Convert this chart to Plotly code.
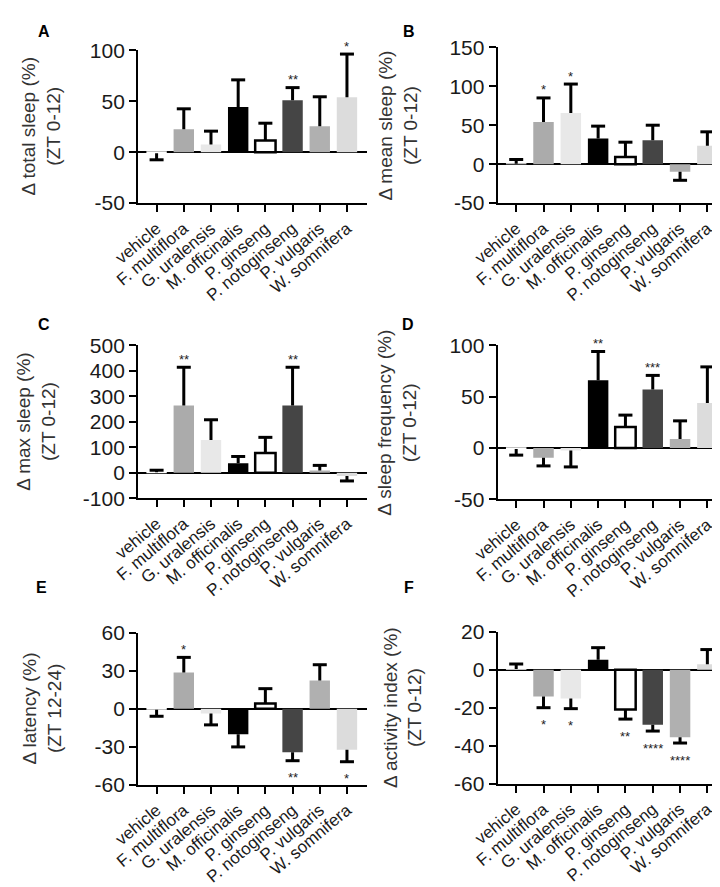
import plotly.graph_objects as go

categories = ["vehicle", "F. multiflora", "G. uralensis", "M. officinalis",
              "P. ginseng", "P. notoginseng", "P. vulgaris", "W. somnifera"]
bar_colors = ["#ffffff", "#ababab", "#e8e8e8", "#000000",
              "#ffffff", "#454545", "#b0b0b0", "#dcdcdc"]
outline_widths = [0, 0, 0, 0, 2.5, 0, 0, 0]

# Panel A: total sleep (ZT 0-12)
total_sleep = [-1, 22.5, 7.6, 44.3, 11.4, 51, 25.3, 53.8]
total_sleep_err = [6.5, 20, 13, 26.6, 17, 12.3, 29, 42.4]
total_sleep_sig = ["", "", "", "", "", "**", "", "*"]
total_sleep_ticks = [-50, 0, 50, 100]

# Panel B: mean sleep (ZT 0-12)
mean_sleep = [0.5, 54, 65.8, 32.8, 9.2, 30.6, -9.7, 23.5]
mean_sleep_err = [5.5, 31, 37, 16, 19, 19.4, 11, 18]
mean_sleep_sig = ["", "*", "*", "", "", "", "", ""]
mean_sleep_ticks = [-50, 0, 50, 100, 150]

# Panel C: max sleep (ZT 0-12)
max_sleep = [2, 264, 129, 37, 78, 264, 9, -13]
max_sleep_err = [8, 150, 79, 27, 61, 150, 20, 19]
max_sleep_sig = ["", "**", "", "", "", "**", "", ""]
max_sleep_ticks = [-100, 0, 100, 200, 300, 400, 500]

# Panel D: sleep frequency (ZT 0-12)
sleep_freq = [-1, -9.5, -2.5, 66, 20.3, 57, 8.6, 43.8]
sleep_freq_err = [6, 8, 16, 28, 11.7, 13.7, 17.8, 35.2]
sleep_freq_sig = ["", "", "", "**", "", "***", "", ""]
sleep_freq_ticks = [-50, 0, 50, 100]

# Panel E: latency (ZT 12-24)
latency = [-0.8, 28.5, -3.8, -20.2, 4.1, -34.5, 22.2, -32.4]
latency_err = [5.2, 12, 9, 10, 11.7, 6.6, 12.5, 9.5]
latency_sig = ["", "*", "", "", "", "**", "", "*"]
latency_ticks = [-60, -30, 0, 30, 60]

# Panel F: activity index (ZT 0-12)
activity = [0.4, -14.1, -15.2, 5.3, -21, -29, -35.5, 2.9]
activity_err = [2.6, 5.9, 5.3, 6.3, 5, 3.3, 3.1, 7.7]
activity_sig = ["", "*", "*", "", "**", "****", "****", ""]
activity_ticks = [-60, -40, -20, 0, 20]

panels = [
    dict(letter="A", vals=total_sleep, errs=total_sleep_err, sig=total_sleep_sig,
         title="\u0394 total sleep (%)<br>(ZT 0-12)", ticks=total_sleep_ticks),
    dict(letter="B", vals=mean_sleep, errs=mean_sleep_err, sig=mean_sleep_sig,
         title="\u0394 mean sleep (%)<br>(ZT 0-12)", ticks=mean_sleep_ticks),
    dict(letter="C", vals=max_sleep, errs=max_sleep_err, sig=max_sleep_sig,
         title="\u0394 max sleep (%)<br>(ZT 0-12)", ticks=max_sleep_ticks),
    dict(letter="D", vals=sleep_freq, errs=sleep_freq_err, sig=sleep_freq_sig,
         title="\u0394 sleep frequency (%)<br>(ZT 0-12)", ticks=sleep_freq_ticks),
    dict(letter="E", vals=latency, errs=latency_err, sig=latency_sig,
         title="\u0394 latency (%)<br>(ZT 12-24)", ticks=latency_ticks),
    dict(letter="F", vals=activity, errs=activity_err, sig=activity_sig,
         title="\u0394 activity index (%)<br>(ZT 0-12)", ticks=activity_ticks),
]

W, H = 720, 887
# plot-area pixel boxes (left, right, top, bottom)
boxes = [
    (108, 345, 31, 188), (481, 719, 28, 188),
    (108, 345, 334, 491), (481, 719, 334, 492),
    (108, 345, 629, 785), (481, 719, 628, 784),
]
title_x = [7, 378, 2, 377, 8, 382]
letter_pos = [(2, 1), (381, 1), (2, 302), (380, 302), (0, 572), (382, 572)]

FONT = "Liberation Sans, Arial, sans-serif"
fig = go.Figure()
annotations = []

for k, p in enumerate(panels):
    n = "" if k == 0 else str(k + 1)
    xa, ya = "x" + n, "y" + n
    vals, errs = p["vals"], p["errs"]
    plus = [e if v >= 0 else 0 for v, e in zip(vals, errs)]
    minus = [0 if v >= 0 else e for v, e in zip(vals, errs)]
    ends = [v + e if v >= 0 else v - e for v, e in zip(vals, errs)]
    fig.add_trace(go.Bar(
        x=categories, y=vals, xaxis=xa, yaxis=ya, width=0.75,
        marker=dict(color=bar_colors, line=dict(color="black", width=outline_widths)),
        error_y=dict(type="data", symmetric=False, array=plus, arrayminus=minus,
                     color="black", thickness=3, width=0),
        showlegend=False, hoverinfo="x+y",
    ))
    fig.add_trace(go.Scatter(
        x=categories, y=ends, xaxis=xa, yaxis=ya, mode="markers",
        marker=dict(symbol="line-ew", size=10, color="black",
                    line=dict(color="black", width=3)),
        showlegend=False, hoverinfo="skip", cliponaxis=False,
    ))
    l, r, t, b = boxes[k]
    dom_x = [l / W, r / W]
    dom_y = [1 - b / H, 1 - t / H]
    ticks = p["ticks"]
    axis_common = dict(showgrid=False, showline=True, linecolor="black", linewidth=2,
                       ticks="outside", tickcolor="black", tickwidth=2, fixedrange=True)
    fig.layout["xaxis" + n] = dict(
        domain=dom_x, anchor=ya, range=[-0.68, 7.72], ticklen=7,
        tickangle=-40, zeroline=False,
        tickfont=dict(family=FONT, size=17, color="#1a1a1a"), **axis_common)
    fig.layout["yaxis" + n] = dict(
        domain=dom_y, anchor=xa, range=[ticks[0], ticks[-1]],
        tickmode="array", tickvals=ticks, ticktext=[str(v) for v in ticks], ticklen=7,
        zeroline=True, zerolinecolor="black", zerolinewidth=2,
        tickfont=dict(family=FONT, size=21, color="#1a1a1a"), **axis_common)
    # y-axis title
    annotations.append(dict(
        text=p["title"], x=title_x[k] / W, y=1 - (t + b) / 2 / H, xref="paper", yref="paper",
        xanchor="center", yanchor="middle", textangle=-90, showarrow=False,
        font=dict(family=FONT, size=19, color="#333333")))
    # panel letter
    lx, ly = letter_pos[k]
    annotations.append(dict(
        text="<b>%s</b>" % p["letter"], x=lx / W, y=1 - ly / H, xref="paper", yref="paper",
        xanchor="left", yanchor="top", showarrow=False,
        font=dict(family=FONT, size=16, color="black")))
    # significance stars
    for c, v, e, s in zip(categories, vals, ends, p["sig"]):
        if s:
            annotations.append(dict(
                text=s, x=c, y=e, xref=xa, yref=ya, showarrow=False,
                xanchor="center", yanchor="middle",
                yshift=8 if v >= 0 else -17,
                font=dict(family=FONT, size=13, color="#222222")))

fig.update_layout(
    width=W, height=H, autosize=False,
    margin=dict(l=0, r=0, t=0, b=0),
    paper_bgcolor="white", plot_bgcolor="white",
    annotations=annotations, bargap=0.25,
    font=dict(family=FONT),
)

fig.write_html("out.html")
